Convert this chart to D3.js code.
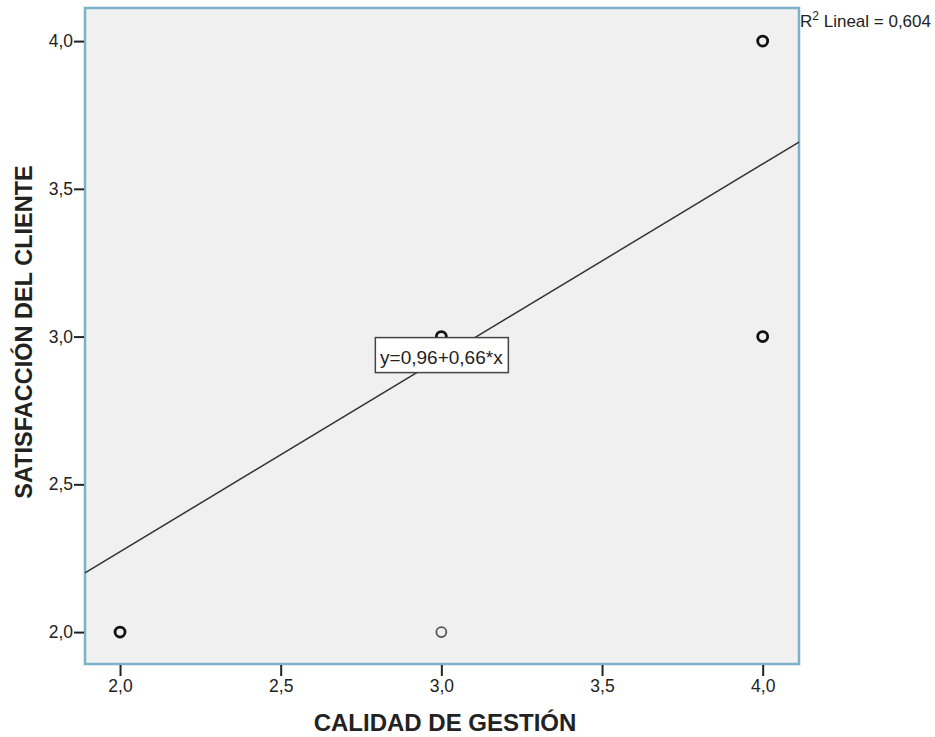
<!DOCTYPE html>
<html>
<head>
<meta charset="utf-8">
<script src="https://cdn.jsdelivr.net/npm/d3@7"></script>
<style>
  body { margin: 0; background: #fff; }
  text { font-family: Arial, "Liberation Sans", sans-serif; }
</style>
</head>
<body>
<svg width="935" height="737"></svg>
<script>
const width = 935;
const height = 737;

// scatter points (calidad, satisfaccion, weight: bold = several cases)
const xValues = [2, 3, 3, 4, 4];
const yValues = [2, 3, 2, 4, 3];
const heavy = [true, true, false, true, true];

const xTicks = [2.0, 2.5, 3.0, 3.5, 4.0];
const yTicks = [2.0, 2.5, 3.0, 3.5, 4.0];

const intercept = 0.96;
const slope = 0.656;
const r2 = 0.604;

const margin = { left: 85, right: 136, top: 8, bottom: 73 };

const fmt = d => d3.format(".1f")(d).replace(".", ",");
const fmt2 = v => d3.format(".2f")(v).replace(".", ",");

const x = d3.scaleLinear()
  .domain([1.891, 4.113])
  .range([margin.left, width - margin.right]);

const y = d3.scaleLinear()
  .domain([1.892, 4.112])
  .range([height - margin.bottom, margin.top]);

const svg = d3.select('svg');

// plot panel
svg.append("rect")
  .attr("x", x.range()[0])
  .attr("y", y.range()[1])
  .attr("width", x.range()[1] - x.range()[0])
  .attr("height", y.range()[0] - y.range()[1])
  .attr("fill", "#f0f0f0")
  .attr("stroke", "#79b3c7")
  .attr("stroke-width", 2.5);

// axes
const xAxis = svg.append("g")
  .attr("transform", `translate(0,${y.range()[0] + 1})`)
  .call(d3.axisBottom(x).tickValues(xTicks).tickFormat(fmt).tickSize(11).tickPadding(4));
xAxis.select(".domain").remove();

const yAxis = svg.append("g")
  .attr("transform", `translate(${x.range()[0] - 1},0)`)
  .call(d3.axisLeft(y).tickValues(yTicks).tickFormat(fmt).tickSize(10).tickPadding(1));
yAxis.select(".domain").remove();

svg.selectAll(".tick line").attr("stroke", "#222").attr("stroke-width", 2);
svg.selectAll(".tick text")
  .attr("fill", "#222")
  .style("font-size", "17.5px")
  .style("font-family", "Arial, 'Liberation Sans', sans-serif");

// regression line
const xd = x.domain();
svg.append("line")
  .attr("x1", x(xd[0]))
  .attr("y1", y(intercept + slope * xd[0]))
  .attr("x2", x(xd[1]))
  .attr("y2", y(intercept + slope * xd[1]))
  .attr("stroke", "#333")
  .attr("stroke-width", 1.5);

// points
svg.append("g")
  .selectAll("circle")
  .data(xValues.map((v, i) => ({ x: v, y: yValues[i], heavy: heavy[i] })))
  .join("circle")
    .attr("cx", d => x(d.x))
    .attr("cy", d => y(d.y))
    .attr("r", 5)
    .attr("fill", "none")
    .attr("stroke", d => d.heavy ? "#111" : "#555")
    .attr("stroke-width", d => d.heavy ? 2.8 : 1.8);

// equation label
const eq = svg.append("g")
  .attr("transform", `translate(${x(3)},${y(3)})`);
eq.append("rect")
  .attr("x", -66).attr("y", 1)
  .attr("width", 133).attr("height", 35)
  .attr("fill", "#fff")
  .attr("stroke", "#444")
  .attr("stroke-width", 1.5);
eq.append("text")
  .attr("text-anchor", "middle")
  .attr("y", 27)
  .attr("fill", "#222")
  .style("font-size", "19px")
  .text(`y=${fmt2(intercept)}+${fmt2(slope)}*x`);

// R2 label
const r2Text = svg.append("text")
  .attr("x", x.range()[1] + 1)
  .attr("y", 27)
  .attr("fill", "#222")
  .style("font-size", "17px");
r2Text.append("tspan").text("R");
r2Text.append("tspan").attr("dy", -7).style("font-size", "12px").text("2");
r2Text.append("tspan").attr("dy", 7).text(" Lineal = " + d3.format(".3f")(r2).replace(".", ","));

// axis titles
svg.append("text")
  .attr("x", 445)
  .attr("y", 731)
  .attr("text-anchor", "middle")
  .attr("fill", "#222")
  .style("font-size", "24px")
  .style("font-weight", "bold")
  .text("CALIDAD DE GESTIÓN");

svg.append("text")
  .attr("transform", `translate(32,332) rotate(-90)`)
  .attr("text-anchor", "middle")
  .attr("fill", "#222")
  .style("font-size", "23.5px")
  .style("font-weight", "bold")
  .text("SATISFACCIÓN DEL CLIENTE");
</script>
</body>
</html>
